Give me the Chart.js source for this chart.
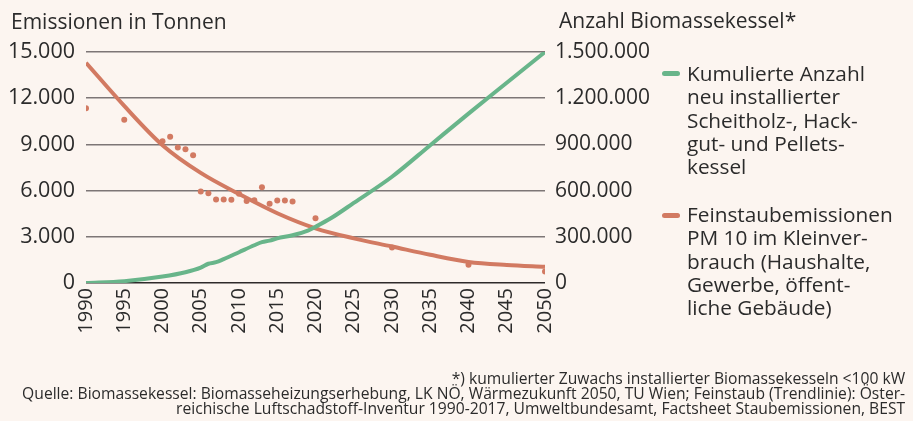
<!DOCTYPE html>
<html lang="de">
<head>
<meta charset="utf-8">
<script src="https://cdn.jsdelivr.net/npm/chart.js@4.4.1/dist/chart.umd.min.js"></script>
<style>
  html, body { margin: 0; padding: 0; background: #fcf5f0; }
  #wrap { position: relative; width: 913px; height: 421px; overflow: hidden; background: #fcf5f0;
          font-family: 'Open Sans', sans-serif; color: #2b2b2b; }
  #c { position: absolute; left: 0; top: 0; }
  .title { position: absolute; font-size: 21px; line-height: 28px; white-space: nowrap; }
  .leg { position: absolute; left: 687px; font-size: 20.8px; line-height: 23.3px; white-space: nowrap; }
  .mark { position: absolute; left: 662px; width: 18px; height: 5px; border-radius: 3px; }
  .foot { position: absolute; right: 8px; font-family: 'Open Sans', sans-serif;
          font-size: 16.5px; line-height: 15px; text-align: right; white-space: nowrap; }
  .fl { display: block; transform-origin: 100% 50%; }
</style>
</head>
<body>
<div id="wrap">
  <canvas id="c" width="913" height="421"></canvas>
  <div class="title" style="left:11px; top:7px;">Emissionen in Tonnen</div>
  <div class="title" style="left:559px; top:6px;">Anzahl Biomassekessel*</div>
  <div class="mark" style="top:71px; background:#68b58a;"></div>
  <div class="leg" style="top:62px;">Kumulierte Anzahl<br>neu installierter<br>Scheitholz-, Hack-<br>gut- und Pellets-<br>kessel</div>
  <div class="mark" style="top:213px; background:#d27a62;"></div>
  <div class="leg" style="top:203px;">Feinstaubemissionen<br>PM 10 im Kleinver-<br>brauch (Haushalte,<br>Gewerbe, öffent-<br>liche Gebäude)</div>
  <div class="foot" id="foot" style="top:370px;">
    <span class="fl">*) kumulierter Zuwachs installierter Biomassekesseln &lt;100 kW</span>
    <span class="fl" id="fl2">Quelle: Biomassekessel: Biomasseheizungserhebung, LK NÖ, Wärmezukunft 2050, TU Wien; Feinstaub (Trendlinie): Öster-</span>
    <span class="fl">reichische Luftschadstoff-Inventur 1990-2017, Umweltbundesamt, Factsheet Staubemissionen, BEST</span>
  </div>
</div>
<script>
// ---- data ----
const pointYears  = [1990, 1995, 2000, 2001, 2002, 2003, 2004, 2005, 2006, 2007, 2008, 2009, 2010, 2011, 2012, 2013, 2014, 2015, 2016, 2017, 2020, 2030, 2040, 2050];
const pointValues = [11350, 10600, 9200, 9500, 8800, 8680, 8300, 5940, 5830, 5420, 5420, 5400, 5800, 5330, 5370, 6220, 5150, 5350, 5350, 5300, 4200, 2300, 1190, 740];

const trendYears  = [1990, 1995, 2000, 2005, 2010, 2015, 2020, 2025, 2030, 2035, 2040, 2045, 2050];
const trendValues = [14300, 11500, 8950, 7150, 5780, 4530, 3550, 2900, 2370, 1830, 1370, 1170, 1050];

const boilerYears  = [1990, 1995, 2000, 2003, 2005, 2006, 2007, 2008, 2010, 2012, 2013, 2014, 2015, 2017, 2019, 2020, 2022, 2025, 2030, 2035, 2040, 2045, 2050];
const boilerValues = [0, 12000, 42000, 70000, 100000, 125000, 135000, 155000, 200000, 245000, 265000, 275000, 290000, 310000, 340000, 365000, 420000, 520000, 690000, 895000, 1100000, 1300000, 1500000];

const leftTicks  = [0, 3000, 6000, 9000, 12000, 15000];
const rightTicks = [0, 300000, 600000, 900000, 1200000, 1500000];
const xTickYears = [1990, 1995, 2000, 2005, 2010, 2015, 2020, 2025, 2030, 2035, 2040, 2045, 2050];

const RED = '#d27a62', GREEN = '#68b58a', TEXT = '#2b2b2b';

function de(v) { return String(v).replace(/\B(?=(\d{3})+(?!\d))/g, '.'); }
function pairs(xs, ys) { return xs.map((x, i) => ({ x: x, y: ys[i] })); }

function fitFoot() {
  const el = document.getElementById('fl2');
  const w = el.scrollWidth || el.getBoundingClientRect().width;
  const target = 883;
  // measure natural text width via range
  const r = document.createRange(); r.selectNodeContents(el);
  const tw = r.getBoundingClientRect().width;
  const s = tw > 0 ? target / tw : 1;
  document.querySelectorAll('.fl').forEach(e => { e.style.transform = 'scaleX(' + s + ')'; });
}

function build() {
  fitFoot();
  new Chart(document.getElementById('c'), {
    data: {
      datasets: [
        { type: 'line', label: 'Biomassekessel', data: pairs(boilerYears, boilerValues), yAxisID: 'y1',
          borderColor: GREEN, borderWidth: 4, pointRadius: 0, cubicInterpolationMode: 'monotone', order: 0 },
        { type: 'line', label: 'Trend', data: pairs(trendYears, trendValues), yAxisID: 'y',
          borderColor: RED, borderWidth: 4, pointRadius: 0, cubicInterpolationMode: 'monotone', order: 1 },
        { type: 'scatter', label: 'Feinstaub', data: pairs(pointYears, pointValues), yAxisID: 'y',
          backgroundColor: RED, borderWidth: 0, pointRadius: 3, order: 2 }
      ]
    },
    options: {
      responsive: false, animation: false, devicePixelRatio: 1,
      layout: { padding: { top: 52, left: 0, right: 0, bottom: 0 } },
      plugins: { legend: { display: false }, tooltip: { enabled: false } },
      scales: {
        x: { type: 'linear', min: 1990, max: 2050,
             afterBuildTicks: s => { s.ticks = xTickYears.map(v => ({ value: v })); },
             afterFit: s => { s.height = 421 - 283; },
             ticks: { autoSkip: false, minRotation: 90, maxRotation: 90, padding: 5, color: TEXT,
                      font: { family: 'Open Sans', size: 20 }, callback: v => String(v) },
             grid: { display: false, drawTicks: false }, border: { display: false } },
        y: { position: 'left', min: 0, max: 15000,
             afterBuildTicks: s => { s.ticks = leftTicks.map(v => ({ value: v })); },
             afterFit: s => { s.width = 86; },
             ticks: { padding: 11, color: TEXT, font: { family: 'Open Sans', size: 21.5 }, callback: v => de(v) },
             grid: { drawTicks: false, lineWidth: 1.5, color: c => (c.tick && c.tick.value === 0) ? '#2e2a2a' : '#7d7676' },
             border: { display: false } },
        y1: { position: 'right', min: 0, max: 1500000,
              afterBuildTicks: s => { s.ticks = rightTicks.map(v => ({ value: v })); },
              afterFit: s => { s.width = 913 - 545; },
              ticks: { padding: 10, color: TEXT, font: { family: 'Open Sans', size: 21 }, callback: v => de(v) },
              grid: { drawOnChartArea: false, drawTicks: false }, border: { display: false } }
      }
    }
  });
}
const fl = (document.fonts && document.fonts.load) ? document.fonts.load('21px "Open Sans"') : Promise.resolve();
fl.then(build, build);
</script>
</body>
</html>
